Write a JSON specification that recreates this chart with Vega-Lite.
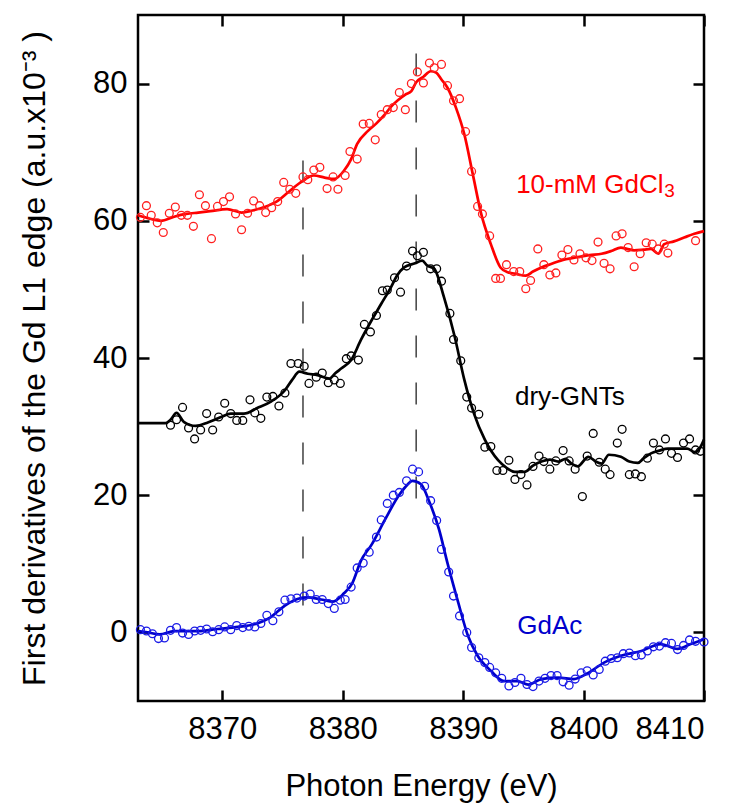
{
  "$schema": "https://vega.github.io/schema/vega-lite/v6.json",
  "width": 566,
  "height": 686,
  "autosize": {"type": "none"},
  "padding": {"left": 138, "top": 15, "right": 38, "bottom": 103},
  "background": "white",
  "config": {
    "view": {"stroke": "black", "strokeWidth": 2.5},
    "font": "Liberation Sans",
    "axis": {
      "grid": false,
      "domain": false,
      "tickColor": "black",
      "tickWidth": 2.5,
      "tickSize": -11,
      "labelFont": "Liberation Sans",
      "labelFontSize": 31,
      "labelColor": "black",
      "titleFont": "Liberation Sans",
      "titleFontWeight": "normal",
      "titleColor": "black",
      "titleLimit": 1000
    }
  },
  "datasets": {
    "lines": [
      {"series": "GdCl3", "E": 8363.0, "v": 60.8}, {"series": "GdCl3", "E": 8364.0, "v": 60.3}, {"series": "GdCl3", "E": 8364.9, "v": 60.0}, {"series": "GdCl3", "E": 8366.0, "v": 60.6}, {"series": "GdCl3", "E": 8367.0, "v": 61.0}, {"series": "GdCl3", "E": 8368.0, "v": 61.2}, {"series": "GdCl3", "E": 8369.0, "v": 61.4}, {"series": "GdCl3", "E": 8370.4, "v": 61.7}, {"series": "GdCl3", "E": 8371.6, "v": 61.2}, {"series": "GdCl3", "E": 8372.5, "v": 61.5}, {"series": "GdCl3", "E": 8373.5, "v": 62.0}, {"series": "GdCl3", "E": 8374.6, "v": 62.9}, {"series": "GdCl3", "E": 8375.5, "v": 64.2}, {"series": "GdCl3", "E": 8376.5, "v": 65.6}, {"series": "GdCl3", "E": 8377.6, "v": 66.6}, {"series": "GdCl3", "E": 8378.5, "v": 66.3}, {"series": "GdCl3", "E": 8379.3, "v": 66.1}, {"series": "GdCl3", "E": 8380.1, "v": 67.3}, {"series": "GdCl3", "E": 8380.7, "v": 69.0}, {"series": "GdCl3", "E": 8381.2, "v": 71.2}, {"series": "GdCl3", "E": 8382.1, "v": 73.1}, {"series": "GdCl3", "E": 8382.8, "v": 74.2}, {"series": "GdCl3", "E": 8383.5, "v": 75.5}, {"series": "GdCl3", "E": 8384.0, "v": 76.6}, {"series": "GdCl3", "E": 8384.6, "v": 77.6}, {"series": "GdCl3", "E": 8385.2, "v": 78.4}, {"series": "GdCl3", "E": 8385.7, "v": 78.9}, {"series": "GdCl3", "E": 8386.1, "v": 80.2}, {"series": "GdCl3", "E": 8386.7, "v": 81.0}, {"series": "GdCl3", "E": 8387.3, "v": 81.8}, {"series": "GdCl3", "E": 8387.75, "v": 81.6}, {"series": "GdCl3", "E": 8388.2, "v": 80.6}, {"series": "GdCl3", "E": 8388.7, "v": 79.4}, {"series": "GdCl3", "E": 8389.4, "v": 76.5}, {"series": "GdCl3", "E": 8390.1, "v": 72.6}, {"series": "GdCl3", "E": 8390.8, "v": 66.8}, {"series": "GdCl3", "E": 8391.5, "v": 61.0}, {"series": "GdCl3", "E": 8392.3, "v": 56.6}, {"series": "GdCl3", "E": 8393.1, "v": 53.2}, {"series": "GdCl3", "E": 8393.7, "v": 52.5}, {"series": "GdCl3", "E": 8394.3, "v": 52.3}, {"series": "GdCl3", "E": 8395.2, "v": 52.0}, {"series": "GdCl3", "E": 8395.8, "v": 52.6}, {"series": "GdCl3", "E": 8396.5, "v": 53.2}, {"series": "GdCl3", "E": 8397.3, "v": 53.7}, {"series": "GdCl3", "E": 8398.1, "v": 54.2}, {"series": "GdCl3", "E": 8399.5, "v": 54.7}, {"series": "GdCl3", "E": 8400.5, "v": 55.0}, {"series": "GdCl3", "E": 8401.5, "v": 55.2}, {"series": "GdCl3", "E": 8402.3, "v": 55.6}, {"series": "GdCl3", "E": 8403.1, "v": 56.1}, {"series": "GdCl3", "E": 8403.6, "v": 55.9}, {"series": "GdCl3", "E": 8404.2, "v": 55.7}, {"series": "GdCl3", "E": 8405.0, "v": 55.8}, {"series": "GdCl3", "E": 8405.6, "v": 55.9}, {"series": "GdCl3", "E": 8406.2, "v": 55.2}, {"series": "GdCl3", "E": 8406.7, "v": 56.6}, {"series": "GdCl3", "E": 8407.5, "v": 57.0}, {"series": "GdCl3", "E": 8408.4, "v": 57.6}, {"series": "GdCl3", "E": 8409.2, "v": 58.1}, {"series": "GdCl3", "E": 8410.0, "v": 58.5},
      {"series": "dry", "E": 8363.0, "v": 30.5}, {"series": "dry", "E": 8365.3, "v": 30.5}, {"series": "dry", "E": 8365.7, "v": 31.0}, {"series": "dry", "E": 8366.2, "v": 32.0}, {"series": "dry", "E": 8366.8, "v": 30.7}, {"series": "dry", "E": 8367.8, "v": 30.1}, {"series": "dry", "E": 8368.8, "v": 30.6}, {"series": "dry", "E": 8369.9, "v": 31.4}, {"series": "dry", "E": 8370.7, "v": 31.9}, {"series": "dry", "E": 8371.8, "v": 31.9}, {"series": "dry", "E": 8372.9, "v": 32.7}, {"series": "dry", "E": 8374.0, "v": 33.6}, {"series": "dry", "E": 8375.2, "v": 35.3}, {"series": "dry", "E": 8375.8, "v": 36.8}, {"series": "dry", "E": 8376.4, "v": 38.0}, {"series": "dry", "E": 8377.1, "v": 37.7}, {"series": "dry", "E": 8377.9, "v": 37.5}, {"series": "dry", "E": 8378.9, "v": 37.0}, {"series": "dry", "E": 8379.4, "v": 37.8}, {"series": "dry", "E": 8379.9, "v": 38.5}, {"series": "dry", "E": 8380.7, "v": 39.7}, {"series": "dry", "E": 8381.5, "v": 42.6}, {"series": "dry", "E": 8382.4, "v": 45.5}, {"series": "dry", "E": 8383.2, "v": 47.9}, {"series": "dry", "E": 8384.0, "v": 50.3}, {"series": "dry", "E": 8384.5, "v": 52.0}, {"series": "dry", "E": 8385.1, "v": 53.2}, {"series": "dry", "E": 8386.0, "v": 53.8}, {"series": "dry", "E": 8386.6, "v": 54.2}, {"series": "dry", "E": 8387.0, "v": 53.5}, {"series": "dry", "E": 8387.6, "v": 53.0}, {"series": "dry", "E": 8388.4, "v": 48.9}, {"series": "dry", "E": 8389.3, "v": 43.1}, {"series": "dry", "E": 8390.1, "v": 36.8}, {"series": "dry", "E": 8390.9, "v": 31.9}, {"series": "dry", "E": 8391.8, "v": 28.1}, {"series": "dry", "E": 8392.9, "v": 25.1}, {"series": "dry", "E": 8393.6, "v": 24.0}, {"series": "dry", "E": 8394.3, "v": 23.4}, {"series": "dry", "E": 8395.1, "v": 23.4}, {"series": "dry", "E": 8395.8, "v": 24.3}, {"series": "dry", "E": 8396.5, "v": 24.9}, {"series": "dry", "E": 8397.2, "v": 25.2}, {"series": "dry", "E": 8397.9, "v": 24.9}, {"series": "dry", "E": 8398.5, "v": 25.3}, {"series": "dry", "E": 8399.0, "v": 24.6}, {"series": "dry", "E": 8399.5, "v": 24.2}, {"series": "dry", "E": 8400.4, "v": 25.6}, {"series": "dry", "E": 8401.0, "v": 24.9}, {"series": "dry", "E": 8401.5, "v": 24.6}, {"series": "dry", "E": 8402.1, "v": 25.9}, {"series": "dry", "E": 8403.1, "v": 25.6}, {"series": "dry", "E": 8403.8, "v": 24.9}, {"series": "dry", "E": 8404.5, "v": 24.7}, {"series": "dry", "E": 8405.0, "v": 25.4}, {"series": "dry", "E": 8405.6, "v": 26.1}, {"series": "dry", "E": 8406.3, "v": 26.5}, {"series": "dry", "E": 8407.0, "v": 26.8}, {"series": "dry", "E": 8407.8, "v": 26.8}, {"series": "dry", "E": 8408.6, "v": 26.8}, {"series": "dry", "E": 8409.2, "v": 26.3}, {"series": "dry", "E": 8409.5, "v": 26.5}, {"series": "dry", "E": 8410.0, "v": 28.1},
      {"series": "GdAc", "E": 8363.0, "v": 0.2}, {"series": "GdAc", "E": 8363.8, "v": 0.0}, {"series": "GdAc", "E": 8364.8, "v": -0.3}, {"series": "GdAc", "E": 8366.0, "v": 0.2}, {"series": "GdAc", "E": 8368.0, "v": 0.2}, {"series": "GdAc", "E": 8369.6, "v": 0.5}, {"series": "GdAc", "E": 8371.3, "v": 0.8}, {"series": "GdAc", "E": 8372.9, "v": 1.3}, {"series": "GdAc", "E": 8374.0, "v": 2.2}, {"series": "GdAc", "E": 8375.2, "v": 3.9}, {"series": "GdAc", "E": 8376.3, "v": 4.9}, {"series": "GdAc", "E": 8377.1, "v": 5.1}, {"series": "GdAc", "E": 8378.2, "v": 4.8}, {"series": "GdAc", "E": 8379.2, "v": 4.5}, {"series": "GdAc", "E": 8380.1, "v": 5.7}, {"series": "GdAc", "E": 8380.8, "v": 7.2}, {"series": "GdAc", "E": 8381.5, "v": 10.4}, {"series": "GdAc", "E": 8382.4, "v": 12.8}, {"series": "GdAc", "E": 8383.5, "v": 16.4}, {"series": "GdAc", "E": 8384.6, "v": 19.8}, {"series": "GdAc", "E": 8385.2, "v": 21.2}, {"series": "GdAc", "E": 8385.8, "v": 22.1}, {"series": "GdAc", "E": 8386.5, "v": 21.6}, {"series": "GdAc", "E": 8387.2, "v": 19.0}, {"series": "GdAc", "E": 8388.0, "v": 15.0}, {"series": "GdAc", "E": 8388.7, "v": 10.1}, {"series": "GdAc", "E": 8389.6, "v": 4.3}, {"series": "GdAc", "E": 8390.4, "v": -0.5}, {"series": "GdAc", "E": 8391.2, "v": -3.4}, {"series": "GdAc", "E": 8392.3, "v": -5.6}, {"series": "GdAc", "E": 8393.4, "v": -7.1}, {"series": "GdAc", "E": 8394.5, "v": -7.1}, {"series": "GdAc", "E": 8395.4, "v": -7.6}, {"series": "GdAc", "E": 8396.5, "v": -6.8}, {"series": "GdAc", "E": 8397.9, "v": -6.6}, {"series": "GdAc", "E": 8399.2, "v": -6.8}, {"series": "GdAc", "E": 8400.3, "v": -6.0}, {"series": "GdAc", "E": 8401.7, "v": -4.4}, {"series": "GdAc", "E": 8403.1, "v": -3.4}, {"series": "GdAc", "E": 8404.8, "v": -2.7}, {"series": "GdAc", "E": 8406.4, "v": -1.7}, {"series": "GdAc", "E": 8407.8, "v": -2.4}, {"series": "GdAc", "E": 8408.9, "v": -1.7}, {"series": "GdAc", "E": 8410.0, "v": -1.0}
    ],
    "points": [
      {"series": "GdCl3", "E": 8363.2, "v": 60.5}, {"series": "GdCl3", "E": 8363.7, "v": 62.2}, {"series": "GdCl3", "E": 8364.1, "v": 60.8}, {"series": "GdCl3", "E": 8364.6, "v": 59.7}, {"series": "GdCl3", "E": 8365.1, "v": 58.3}, {"series": "GdCl3", "E": 8365.6, "v": 61.1}, {"series": "GdCl3", "E": 8366.1, "v": 62.0}, {"series": "GdCl3", "E": 8366.6, "v": 60.8}, {"series": "GdCl3", "E": 8367.1, "v": 60.8}, {"series": "GdCl3", "E": 8367.6, "v": 59.2}, {"series": "GdCl3", "E": 8368.1, "v": 63.8}, {"series": "GdCl3", "E": 8368.6, "v": 62.2}, {"series": "GdCl3", "E": 8369.1, "v": 57.4}, {"series": "GdCl3", "E": 8369.6, "v": 62.1}, {"series": "GdCl3", "E": 8370.1, "v": 62.8}, {"series": "GdCl3", "E": 8370.6, "v": 63.5}, {"series": "GdCl3", "E": 8371.1, "v": 61.0}, {"series": "GdCl3", "E": 8371.6, "v": 58.7}, {"series": "GdCl3", "E": 8372.1, "v": 61.1}, {"series": "GdCl3", "E": 8372.6, "v": 62.9}, {"series": "GdCl3", "E": 8373.1, "v": 62.2}, {"series": "GdCl3", "E": 8373.6, "v": 61.2}, {"series": "GdCl3", "E": 8374.1, "v": 61.9}, {"series": "GdCl3", "E": 8374.6, "v": 62.8}, {"series": "GdCl3", "E": 8375.1, "v": 65.6}, {"series": "GdCl3", "E": 8375.6, "v": 64.6}, {"series": "GdCl3", "E": 8376.1, "v": 64.0}, {"series": "GdCl3", "E": 8376.7, "v": 66.4}, {"series": "GdCl3", "E": 8377.1, "v": 66.0}, {"series": "GdCl3", "E": 8377.6, "v": 67.4}, {"series": "GdCl3", "E": 8378.1, "v": 67.8}, {"series": "GdCl3", "E": 8378.7, "v": 64.7}, {"series": "GdCl3", "E": 8379.2, "v": 66.4}, {"series": "GdCl3", "E": 8379.6, "v": 64.6}, {"series": "GdCl3", "E": 8380.2, "v": 66.6}, {"series": "GdCl3", "E": 8380.6, "v": 70.1}, {"series": "GdCl3", "E": 8381.2, "v": 69.0}, {"series": "GdCl3", "E": 8381.7, "v": 74.1}, {"series": "GdCl3", "E": 8382.2, "v": 74.2}, {"series": "GdCl3", "E": 8382.7, "v": 71.8}, {"series": "GdCl3", "E": 8383.2, "v": 75.5}, {"series": "GdCl3", "E": 8383.7, "v": 76.2}, {"series": "GdCl3", "E": 8384.2, "v": 76.5}, {"series": "GdCl3", "E": 8384.7, "v": 78.7}, {"series": "GdCl3", "E": 8385.2, "v": 76.2}, {"series": "GdCl3", "E": 8385.7, "v": 80.0}, {"series": "GdCl3", "E": 8386.2, "v": 81.7}, {"series": "GdCl3", "E": 8386.7, "v": 80.1}, {"series": "GdCl3", "E": 8387.2, "v": 83.0}, {"series": "GdCl3", "E": 8387.6, "v": 82.3}, {"series": "GdCl3", "E": 8388.2, "v": 82.8}, {"series": "GdCl3", "E": 8388.7, "v": 79.7}, {"series": "GdCl3", "E": 8389.2, "v": 77.5}, {"series": "GdCl3", "E": 8389.7, "v": 77.8}, {"series": "GdCl3", "E": 8390.2, "v": 73.0}, {"series": "GdCl3", "E": 8390.7, "v": 67.2}, {"series": "GdCl3", "E": 8391.2, "v": 62.1}, {"series": "GdCl3", "E": 8391.6, "v": 61.0}, {"series": "GdCl3", "E": 8392.2, "v": 57.8}, {"series": "GdCl3", "E": 8392.7, "v": 51.6}, {"series": "GdCl3", "E": 8393.1, "v": 51.6}, {"series": "GdCl3", "E": 8393.6, "v": 53.6}, {"series": "GdCl3", "E": 8394.2, "v": 52.6}, {"series": "GdCl3", "E": 8394.7, "v": 52.6}, {"series": "GdCl3", "E": 8395.2, "v": 50.1}, {"series": "GdCl3", "E": 8395.6, "v": 51.3}, {"series": "GdCl3", "E": 8396.2, "v": 55.9}, {"series": "GdCl3", "E": 8396.7, "v": 53.6}, {"series": "GdCl3", "E": 8397.2, "v": 52.1}, {"series": "GdCl3", "E": 8397.7, "v": 52.4}, {"series": "GdCl3", "E": 8398.2, "v": 55.0}, {"series": "GdCl3", "E": 8398.7, "v": 55.8}, {"series": "GdCl3", "E": 8399.2, "v": 54.3}, {"series": "GdCl3", "E": 8399.7, "v": 55.2}, {"series": "GdCl3", "E": 8400.2, "v": 54.6}, {"series": "GdCl3", "E": 8400.7, "v": 54.2}, {"series": "GdCl3", "E": 8401.2, "v": 56.9}, {"series": "GdCl3", "E": 8401.7, "v": 53.8}, {"series": "GdCl3", "E": 8402.2, "v": 53.0}, {"series": "GdCl3", "E": 8402.7, "v": 57.8}, {"series": "GdCl3", "E": 8403.2, "v": 58.1}, {"series": "GdCl3", "E": 8403.7, "v": 56.1}, {"series": "GdCl3", "E": 8404.2, "v": 53.3}, {"series": "GdCl3", "E": 8404.7, "v": 55.2}, {"series": "GdCl3", "E": 8405.2, "v": 56.8}, {"series": "GdCl3", "E": 8405.7, "v": 56.6}, {"series": "GdCl3", "E": 8406.2, "v": 55.9}, {"series": "GdCl3", "E": 8406.7, "v": 56.6}, {"series": "GdCl3", "E": 8407.0, "v": 55.3}, {"series": "GdCl3", "E": 8409.3, "v": 57.1},
      {"series": "dry", "E": 8365.7, "v": 30.2}, {"series": "dry", "E": 8366.2, "v": 31.0}, {"series": "dry", "E": 8366.7, "v": 32.8}, {"series": "dry", "E": 8367.2, "v": 29.8}, {"series": "dry", "E": 8367.7, "v": 28.2}, {"series": "dry", "E": 8368.2, "v": 29.5}, {"series": "dry", "E": 8368.7, "v": 31.9}, {"series": "dry", "E": 8369.2, "v": 29.5}, {"series": "dry", "E": 8369.7, "v": 31.4}, {"series": "dry", "E": 8370.2, "v": 33.4}, {"series": "dry", "E": 8370.7, "v": 31.9}, {"series": "dry", "E": 8371.2, "v": 30.9}, {"series": "dry", "E": 8371.7, "v": 30.9}, {"series": "dry", "E": 8372.3, "v": 33.9}, {"series": "dry", "E": 8372.7, "v": 32.0}, {"series": "dry", "E": 8373.2, "v": 31.2}, {"series": "dry", "E": 8373.7, "v": 34.3}, {"series": "dry", "E": 8374.2, "v": 34.4}, {"series": "dry", "E": 8374.7, "v": 33.0}, {"series": "dry", "E": 8375.2, "v": 34.9}, {"series": "dry", "E": 8375.7, "v": 39.2}, {"series": "dry", "E": 8376.3, "v": 39.2}, {"series": "dry", "E": 8376.8, "v": 38.8}, {"series": "dry", "E": 8377.2, "v": 36.3}, {"series": "dry", "E": 8377.8, "v": 37.2}, {"series": "dry", "E": 8378.3, "v": 37.8}, {"series": "dry", "E": 8378.8, "v": 36.4}, {"series": "dry", "E": 8379.3, "v": 36.8}, {"series": "dry", "E": 8379.8, "v": 36.3}, {"series": "dry", "E": 8380.3, "v": 39.9}, {"series": "dry", "E": 8380.7, "v": 40.3}, {"series": "dry", "E": 8381.3, "v": 39.7}, {"series": "dry", "E": 8381.8, "v": 44.9}, {"series": "dry", "E": 8382.3, "v": 43.8}, {"series": "dry", "E": 8382.8, "v": 46.2}, {"series": "dry", "E": 8383.3, "v": 49.8}, {"series": "dry", "E": 8383.7, "v": 49.9}, {"series": "dry", "E": 8384.3, "v": 51.7}, {"series": "dry", "E": 8384.8, "v": 49.6}, {"series": "dry", "E": 8385.3, "v": 53.4}, {"series": "dry", "E": 8385.8, "v": 55.6}, {"series": "dry", "E": 8386.2, "v": 54.9}, {"series": "dry", "E": 8386.7, "v": 55.4}, {"series": "dry", "E": 8387.3, "v": 53.0}, {"series": "dry", "E": 8387.8, "v": 53.0}, {"series": "dry", "E": 8388.2, "v": 51.2}, {"series": "dry", "E": 8388.9, "v": 46.5}, {"series": "dry", "E": 8389.2, "v": 42.7}, {"series": "dry", "E": 8389.8, "v": 39.6}, {"series": "dry", "E": 8390.3, "v": 34.3}, {"series": "dry", "E": 8390.7, "v": 32.7}, {"series": "dry", "E": 8391.3, "v": 31.8}, {"series": "dry", "E": 8391.8, "v": 27.0}, {"series": "dry", "E": 8392.3, "v": 27.1}, {"series": "dry", "E": 8392.8, "v": 23.6}, {"series": "dry", "E": 8393.3, "v": 23.6}, {"series": "dry", "E": 8393.8, "v": 25.1}, {"series": "dry", "E": 8394.3, "v": 22.3}, {"series": "dry", "E": 8394.8, "v": 23.0}, {"series": "dry", "E": 8395.3, "v": 21.5}, {"series": "dry", "E": 8395.8, "v": 24.2}, {"series": "dry", "E": 8396.3, "v": 25.7}, {"series": "dry", "E": 8396.7, "v": 24.9}, {"series": "dry", "E": 8397.2, "v": 23.8}, {"series": "dry", "E": 8397.7, "v": 25.0}, {"series": "dry", "E": 8398.3, "v": 26.5}, {"series": "dry", "E": 8398.8, "v": 25.0}, {"series": "dry", "E": 8399.3, "v": 23.8}, {"series": "dry", "E": 8399.9, "v": 19.8}, {"series": "dry", "E": 8400.3, "v": 25.7}, {"series": "dry", "E": 8400.8, "v": 29.0}, {"series": "dry", "E": 8401.3, "v": 24.8}, {"series": "dry", "E": 8401.8, "v": 23.8}, {"series": "dry", "E": 8402.2, "v": 23.0}, {"series": "dry", "E": 8402.8, "v": 27.6}, {"series": "dry", "E": 8403.2, "v": 29.6}, {"series": "dry", "E": 8403.8, "v": 23.0}, {"series": "dry", "E": 8404.3, "v": 23.1}, {"series": "dry", "E": 8404.8, "v": 22.7}, {"series": "dry", "E": 8405.3, "v": 25.4}, {"series": "dry", "E": 8405.8, "v": 27.6}, {"series": "dry", "E": 8406.3, "v": 26.6}, {"series": "dry", "E": 8406.8, "v": 28.2}, {"series": "dry", "E": 8407.3, "v": 26.1}, {"series": "dry", "E": 8407.8, "v": 25.5}, {"series": "dry", "E": 8408.3, "v": 27.6}, {"series": "dry", "E": 8408.8, "v": 28.2}, {"series": "dry", "E": 8409.3, "v": 26.6}, {"series": "dry", "E": 8409.7, "v": 26.4},
      {"series": "GdAc", "E": 8363.2, "v": 0.4}, {"series": "GdAc", "E": 8363.7, "v": 0.2}, {"series": "GdAc", "E": 8364.2, "v": -0.2}, {"series": "GdAc", "E": 8364.7, "v": -0.9}, {"series": "GdAc", "E": 8365.2, "v": -0.8}, {"series": "GdAc", "E": 8365.7, "v": 0.3}, {"series": "GdAc", "E": 8366.2, "v": 0.7}, {"series": "GdAc", "E": 8366.7, "v": -0.1}, {"series": "GdAc", "E": 8367.2, "v": -0.3}, {"series": "GdAc", "E": 8367.7, "v": 0.2}, {"series": "GdAc", "E": 8368.2, "v": 0.3}, {"series": "GdAc", "E": 8368.7, "v": 0.5}, {"series": "GdAc", "E": 8369.2, "v": 0.1}, {"series": "GdAc", "E": 8369.7, "v": 0.4}, {"series": "GdAc", "E": 8370.2, "v": 0.8}, {"series": "GdAc", "E": 8370.7, "v": 0.4}, {"series": "GdAc", "E": 8371.2, "v": 1.0}, {"series": "GdAc", "E": 8371.7, "v": 0.7}, {"series": "GdAc", "E": 8372.2, "v": 0.9}, {"series": "GdAc", "E": 8372.7, "v": 0.8}, {"series": "GdAc", "E": 8373.2, "v": 1.3}, {"series": "GdAc", "E": 8373.7, "v": 2.5}, {"series": "GdAc", "E": 8374.2, "v": 1.7}, {"series": "GdAc", "E": 8374.7, "v": 3.0}, {"series": "GdAc", "E": 8375.2, "v": 4.7}, {"series": "GdAc", "E": 8375.7, "v": 4.9}, {"series": "GdAc", "E": 8376.2, "v": 5.0}, {"series": "GdAc", "E": 8376.8, "v": 5.3}, {"series": "GdAc", "E": 8377.3, "v": 5.6}, {"series": "GdAc", "E": 8377.8, "v": 4.8}, {"series": "GdAc", "E": 8378.3, "v": 4.8}, {"series": "GdAc", "E": 8378.8, "v": 4.2}, {"series": "GdAc", "E": 8379.3, "v": 3.5}, {"series": "GdAc", "E": 8379.8, "v": 4.7}, {"series": "GdAc", "E": 8380.2, "v": 4.8}, {"series": "GdAc", "E": 8380.7, "v": 6.6}, {"series": "GdAc", "E": 8381.2, "v": 9.4}, {"series": "GdAc", "E": 8381.7, "v": 10.1}, {"series": "GdAc", "E": 8382.2, "v": 11.7}, {"series": "GdAc", "E": 8382.8, "v": 13.9}, {"series": "GdAc", "E": 8383.2, "v": 16.4}, {"series": "GdAc", "E": 8383.7, "v": 18.8}, {"series": "GdAc", "E": 8384.2, "v": 20.0}, {"series": "GdAc", "E": 8384.7, "v": 20.4}, {"series": "GdAc", "E": 8385.3, "v": 22.1}, {"series": "GdAc", "E": 8385.8, "v": 23.8}, {"series": "GdAc", "E": 8386.3, "v": 23.4}, {"series": "GdAc", "E": 8386.8, "v": 21.3}, {"series": "GdAc", "E": 8387.3, "v": 19.2}, {"series": "GdAc", "E": 8387.8, "v": 16.3}, {"series": "GdAc", "E": 8388.2, "v": 12.1}, {"series": "GdAc", "E": 8388.8, "v": 8.8}, {"series": "GdAc", "E": 8389.2, "v": 5.3}, {"series": "GdAc", "E": 8389.7, "v": 2.4}, {"series": "GdAc", "E": 8390.3, "v": 0.0}, {"series": "GdAc", "E": 8390.7, "v": -2.2}, {"series": "GdAc", "E": 8391.3, "v": -3.7}, {"series": "GdAc", "E": 8391.8, "v": -4.4}, {"series": "GdAc", "E": 8392.2, "v": -5.1}, {"series": "GdAc", "E": 8392.7, "v": -5.9}, {"series": "GdAc", "E": 8393.2, "v": -6.7}, {"series": "GdAc", "E": 8393.8, "v": -7.8}, {"series": "GdAc", "E": 8394.3, "v": -7.3}, {"series": "GdAc", "E": 8394.8, "v": -6.7}, {"series": "GdAc", "E": 8395.3, "v": -7.6}, {"series": "GdAc", "E": 8395.8, "v": -7.9}, {"series": "GdAc", "E": 8396.3, "v": -7.1}, {"series": "GdAc", "E": 8396.8, "v": -6.7}, {"series": "GdAc", "E": 8397.3, "v": -6.3}, {"series": "GdAc", "E": 8397.8, "v": -6.3}, {"series": "GdAc", "E": 8398.3, "v": -7.2}, {"series": "GdAc", "E": 8398.8, "v": -7.7}, {"series": "GdAc", "E": 8399.3, "v": -6.8}, {"series": "GdAc", "E": 8399.8, "v": -5.9}, {"series": "GdAc", "E": 8400.3, "v": -5.6}, {"series": "GdAc", "E": 8400.8, "v": -6.2}, {"series": "GdAc", "E": 8401.3, "v": -5.4}, {"series": "GdAc", "E": 8401.8, "v": -4.2}, {"series": "GdAc", "E": 8402.3, "v": -3.8}, {"series": "GdAc", "E": 8402.8, "v": -3.7}, {"series": "GdAc", "E": 8403.3, "v": -3.1}, {"series": "GdAc", "E": 8403.8, "v": -3.0}, {"series": "GdAc", "E": 8404.3, "v": -3.4}, {"series": "GdAc", "E": 8404.8, "v": -3.3}, {"series": "GdAc", "E": 8405.3, "v": -2.7}, {"series": "GdAc", "E": 8405.8, "v": -2.1}, {"series": "GdAc", "E": 8406.3, "v": -2.0}, {"series": "GdAc", "E": 8406.8, "v": -1.5}, {"series": "GdAc", "E": 8407.3, "v": -1.6}, {"series": "GdAc", "E": 8407.8, "v": -2.5}, {"series": "GdAc", "E": 8408.3, "v": -1.9}, {"series": "GdAc", "E": 8408.8, "v": -1.1}, {"series": "GdAc", "E": 8409.3, "v": -1.3}, {"series": "GdAc", "E": 8410.0, "v": -1.4}
    ],
    "guides": [
      {"E": 8376.7, "top": 68.8, "bottom": 3.0},
      {"E": 8386.1, "top": 84.4, "bottom": 18.3}
    ]
  },
  "layer": [
    {
      "data": {"name": "guides"},
      "mark": {"type": "rule", "color": "#4d4d4d", "strokeWidth": 1.6, "strokeDash": [22, 25]},
      "encoding": {
        "x": {"field": "E", "type": "quantitative", "scale": {"domain": [8363, 8410], "nice": false, "zero": false}, "axis": null},
        "y": {"field": "top", "type": "quantitative", "scale": {"domain": [-10, 90], "nice": false, "zero": false}, "axis": null},
        "y2": {"field": "bottom"}
      }
    },
    {
      "data": {"name": "lines"},
      "mark": {"type": "line", "strokeWidth": 2.7, "interpolate": "monotone"},
      "encoding": {
        "x": {"field": "E", "type": "quantitative", "scale": {"domain": [8363, 8410], "nice": false, "zero": false},
          "axis": {"orient": "bottom", "values": [8370, 8380, 8390, 8400, 8410], "format": "d", "labelPadding": 24, "title": "Photon Energy (eV)", "titleFontSize": 31, "titlePadding": 27}},
        "y": {"field": "v", "type": "quantitative", "scale": {"domain": [-10, 90], "nice": false, "zero": false},
          "axis": {"orient": "left", "values": [0, 20, 40, 60, 80], "labelPadding": 22, "title": "First derivatives of the Gd L1 edge (a.u.x10⁻³ )", "titleFontSize": 32, "titlePadding": 41}},
        "color": {"field": "series", "type": "nominal", "scale": {"domain": ["GdCl3", "dry", "GdAc"], "range": ["#ff0000", "#000000", "#0000cc"]}, "legend": null},
        "order": {"field": "E", "type": "quantitative"}
      }
    },
    {
      "data": {"name": "points"},
      "mark": {"type": "point", "shape": "circle", "filled": false, "size": 62, "strokeWidth": 1.3, "opacity": 1},
      "encoding": {
        "x": {"field": "E", "type": "quantitative", "scale": {"domain": [8363, 8410], "nice": false, "zero": false},
          "axis": {"orient": "top", "values": [8370, 8380, 8390, 8400, 8410], "labels": false, "title": null}},
        "y": {"field": "v", "type": "quantitative", "scale": {"domain": [-10, 90], "nice": false, "zero": false},
          "axis": {"orient": "right", "values": [0, 20, 40, 60, 80], "labels": false, "title": null}},
        "color": {"field": "series", "type": "nominal", "scale": {"domain": ["GdCl3", "dry", "GdAc"], "range": ["#ff1f1f", "#000000", "#1a1ae6"]}, "legend": null}
      }
    },
    {
      "data": {"values": [{"label": "10-mM GdCl"}]},
      "mark": {"type": "text", "align": "left", "baseline": "middle", "fontSize": 26, "font": "Liberation Sans", "color": "#ff0000"},
      "encoding": {"x": {"datum": 8394.4, "type": "quantitative", "axis": null}, "y": {"datum": 65.2, "type": "quantitative", "axis": null}, "text": {"field": "label"}}
    },
    {
      "data": {"values": [{"label": "3"}]},
      "mark": {"type": "text", "align": "left", "baseline": "middle", "fontSize": 19, "font": "Liberation Sans", "color": "#ff0000"},
      "encoding": {"x": {"datum": 8406.7, "type": "quantitative", "axis": null}, "y": {"datum": 64.3, "type": "quantitative", "axis": null}, "text": {"field": "label"}}
    },
    {
      "data": {"values": [{"label": "dry-GNTs"}]},
      "mark": {"type": "text", "align": "left", "baseline": "middle", "fontSize": 26, "font": "Liberation Sans", "color": "#000000"},
      "encoding": {"x": {"datum": 8394.3, "type": "quantitative", "axis": null}, "y": {"datum": 34.3, "type": "quantitative", "axis": null}, "text": {"field": "label"}}
    },
    {
      "data": {"values": [{"label": "GdAc"}]},
      "mark": {"type": "text", "align": "left", "baseline": "middle", "fontSize": 26, "font": "Liberation Sans", "color": "#0000cc"},
      "encoding": {"x": {"datum": 8394.5, "type": "quantitative", "axis": null}, "y": {"datum": 0.9, "type": "quantitative", "axis": null}, "text": {"field": "label"}}
    }
  ],
  "resolve": {"scale": {"x": "shared", "y": "shared", "color": "independent"}, "axis": {"x": "independent", "y": "independent"}}
}
